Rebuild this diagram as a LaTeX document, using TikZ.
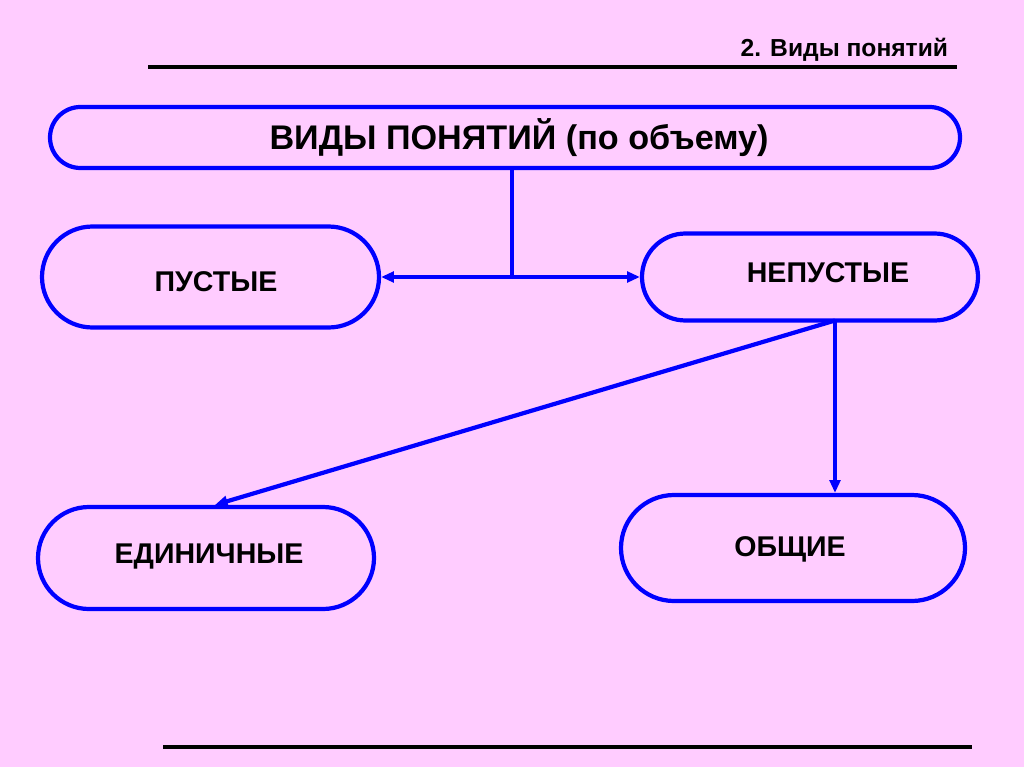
\documentclass[tikz,border=0pt]{standalone}
\usepackage{fontspec}
\setmainfont{Liberation Sans}
\usetikzlibrary{arrows.meta,shapes.misc}

\definecolor{slidepink}{RGB}{255,204,255}
\definecolor{boxblue}{RGB}{0,0,255}
\newcommand\pxl{0.025cm}

\tikzset{
    kindbox/.style={rounded rectangle, draw=boxblue, line width=3pt, inner sep=0pt},
    kindtext/.style={font=\bfseries\fontsize{20.3}{24}\selectfont},
    link/.style={draw=boxblue, line width=3pt},
    rule/.style={line width=2.2pt, black}
}

\begin{document}
\begin{tikzpicture}[x=\pxl, y=-\pxl, >={Triangle[length=9pt,width=7.5pt]}]
    \fill[slidepink] (0,0) rectangle (1024,767);
    \useasboundingbox (0,0) rectangle (1024,767);

    % heading
    \node[anchor=base east, font=\bfseries\fontsize{17.5}{20}\selectfont] (title) at (953,57) {2. Виды понятий};
    \draw[rule] (148,67) -- (957,67);
    \draw[rule] (163,747) -- (972,747);

    % boxes
    \node[kindbox, minimum width=910*\pxl, minimum height=61*\pxl] (kinds) at (505,137.5) {};
    \node[kindbox, minimum width=337*\pxl, minimum height=101*\pxl] (empty) at (210.5,277) {};
    \node[kindbox, minimum width=336*\pxl, minimum height=87*\pxl] (nonempty) at (810,277) {};
    \node[kindbox, minimum width=336*\pxl, minimum height=102*\pxl] (single) at (206,558) {};
    \node[kindbox, minimum width=344*\pxl, minimum height=106*\pxl] (general) at (793,548) {};

    % box texts
    \node[font=\bfseries\fontsize{24.3}{28}\selectfont] (kindstext) at (519,138) {ВИДЫ ПОНЯТИЙ (по объему)};
    \node[kindtext] (emptytext) at (216,282) {ПУСТЫЕ};
    \node[kindtext] (nonemptytext) at (828,273) {НЕПУСТЫЕ};
    \node[kindtext] (singletext) at (209,557) {ЕДИНИЧНЫЕ};
    \node[kindtext] (generaltext) at (790,549) {ОБЩИЕ};

    % connectors
    \coordinate (split) at (512,277);
    \coordinate (fork) at (835,320.5);
    \draw[link] (kinds.south -| split) -- (split);
    \draw[link, ->] (split) -- (empty.east);
    \draw[link, ->] (split) -- (nonempty.west);
    \draw[link, ->] (fork) -- ([xshift=9*\pxl]single.north);
    \draw[link, ->] (fork) -- (fork |- general.north);
\end{tikzpicture}
\end{document}
